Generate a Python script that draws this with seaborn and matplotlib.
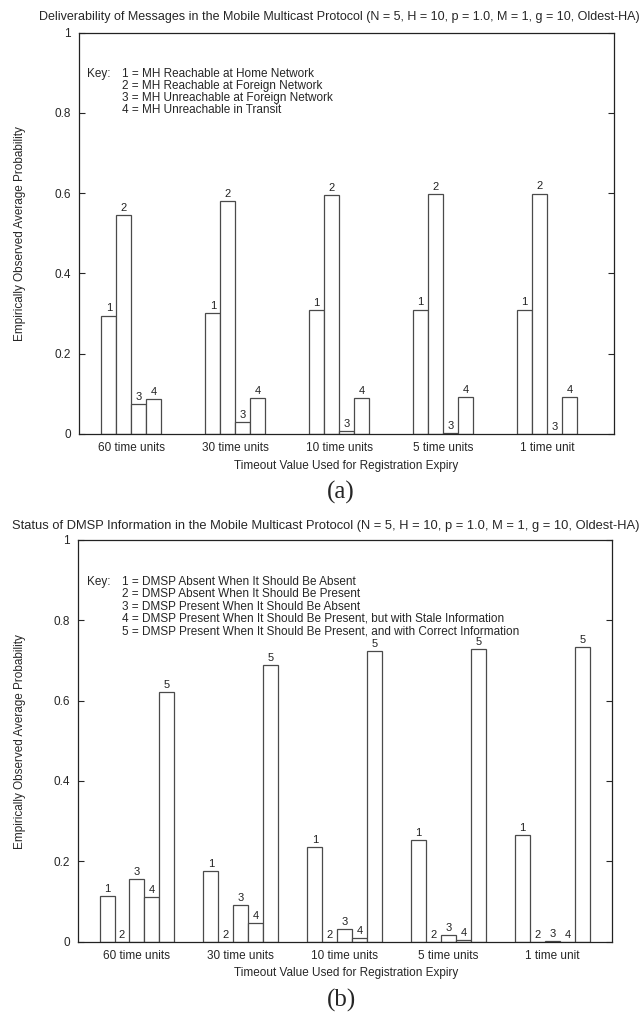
import numpy as np
import pandas as pd
import matplotlib
matplotlib.use("Agg")
import matplotlib.pyplot as plt
import seaborn as sns

# ---------------- data ----------------
timeouts = ["60 time units", "30 time units", "10 time units", "5 time units", "1 time unit"]

# Chart (a): deliverability
a_series = ["1", "2", "3", "4"]
a_s1 = [0.295, 0.301, 0.308, 0.310, 0.310]
a_s2 = [0.545, 0.580, 0.595, 0.597, 0.599]
a_s3 = [0.075, 0.029, 0.007, 0.002, 0.0005]
a_s4 = [0.086, 0.089, 0.090, 0.091, 0.091]
a_key = ["1 = MH Reachable at Home Network",
         "2 = MH Reachable at Foreign Network",
         "3 = MH Unreachable at Foreign Network",
         "4 = MH Unreachable in Transit"]
a_title = "Deliverability of Messages in the Mobile Multicast Protocol (N = 5, H = 10, p = 1.0, M = 1, g = 10, Oldest-HA)"

# Chart (b): DMSP status
b_series = ["1", "2", "3", "4", "5"]
b_s1 = [0.113, 0.176, 0.236, 0.252, 0.265]
b_s2 = [0.0, 0.0, 0.0, 0.0, 0.0]
b_s3 = [0.155, 0.091, 0.032, 0.016, 0.002]
b_s4 = [0.110, 0.046, 0.009, 0.003, 0.0]
b_s5 = [0.621, 0.688, 0.723, 0.728, 0.733]
b_key = ["1 = DMSP Absent When It Should Be Absent",
         "2 = DMSP Absent When It Should Be Present",
         "3 = DMSP Present When It Should Be Absent",
         "4 = DMSP Present When It Should Be Present, but with Stale Information",
         "5 = DMSP Present When It Should Be Present, and with Correct Information"]
b_title = "Status of DMSP Information in the Mobile Multicast Protocol (N = 5, H = 10, p = 1.0, M = 1, g = 10, Oldest-HA)"

xlabel = "Timeout Value Used for Registration Expiry"
ylabel = "Empirically Observed Average Probability"
yticks = [0, 0.2, 0.4, 0.6, 0.8, 1.0]


def make_df(series_names, series_values):
    rows = []
    for name, vals in zip(series_names, series_values):
        for t, v in zip(timeouts, vals):
            rows.append({"timeout": t, "series": name, "value": v})
    return pd.DataFrame(rows)


df_a = make_df(a_series, [a_s1, a_s2, a_s3, a_s4])
df_b = make_df(b_series, [b_s1, b_s2, b_s3, b_s4, b_s5])

# ---------------- style ----------------
sns.set_style("ticks")
plt.rcParams["font.family"] = ["Liberation Sans", "DejaVu Sans"]
plt.rcParams["axes.linewidth"] = 0.9

W, H = 643, 1016
fig = plt.figure(figsize=(W / 100, H / 100), dpi=100)

FS = 8.5


def px_axes(l, r, top, bottom):
    return fig.add_axes([l / W, 1 - bottom / H, (r - l) / W, (bottom - top) / H])


def draw(ax, df, series, total_width, xlim):
    sns.barplot(data=df, x="timeout", y="value", hue="series", hue_order=series,
                order=timeouts, palette=["white"] * len(series), width=total_width,
                edgecolor="#4a4a4a", linewidth=0.9, legend=False, ax=ax, errorbar=None)
    for cont, name in zip(ax.containers, series):
        ax.bar_label(cont, labels=[name] * len(cont), padding=1.5, fontsize=8, color="#222222")
    ax.set_ylim(0, 1)
    ax.set_xlim(*xlim)
    ax.set_yticks(yticks)
    ax.set_yticklabels(["%g" % t for t in yticks], fontsize=FS)
    ax.tick_params(axis="y", direction="in", length=4.5, width=0.8, right=True, left=True, pad=6)
    ax.tick_params(axis="x", length=0, labelsize=FS, pad=6)
    ax.set_xlabel("")
    ax.set_ylabel("")
    for s in ax.spines.values():
        s.set_visible(True)
        s.set_color("#222222")


# chart (a)
ax1 = px_axes(79, 614, 32.5, 434)
draw(ax1, df_a, a_series, 0.578, (-0.505, 4.645))
fig.text(640 / W, 1 - 17 / H, a_title, ha="right", va="center", fontsize=9)
fig.text(346 / W, 1 - 466 / H, xlabel, ha="center", va="center", fontsize=FS)
fig.text(20 / W, 1 - 234 / H, ylabel, ha="center", va="center", rotation=90, fontsize=FS)
fig.text(341 / W, 1 - 492 / H, "(a)", ha="center", va="center", fontsize=18,
         family=["Liberation Serif", "DejaVu Serif"])
fig.text(87 / W, 1 - 74 / H, "Key:", ha="left", va="center", fontsize=FS)
for i, line in enumerate(a_key):
    fig.text(122 / W, 1 - (74 + 12.1 * i) / H, line, ha="left", va="center", fontsize=FS)

# chart (b)
ax2 = px_axes(78, 612, 539.7, 941.7)
draw(ax2, df_b, b_series, 0.722, (-0.568, 4.573))
fig.text(640 / W, 1 - 526 / H, b_title, ha="right", va="center", fontsize=9.3)
fig.text(346 / W, 1 - 973 / H, xlabel, ha="center", va="center", fontsize=FS)
fig.text(20 / W, 1 - 742 / H, ylabel, ha="center", va="center", rotation=90, fontsize=FS)
fig.text(341 / W, 1 - 1000 / H, "(b)", ha="center", va="center", fontsize=18,
         family=["Liberation Serif", "DejaVu Serif"])
fig.text(87 / W, 1 - 582 / H, "Key:", ha="left", va="center", fontsize=FS)
for i, line in enumerate(b_key):
    fig.text(122 / W, 1 - (582 + 12.3 * i) / H, line, ha="left", va="center", fontsize=FS)

fig.savefig("out.png", dpi=100)
